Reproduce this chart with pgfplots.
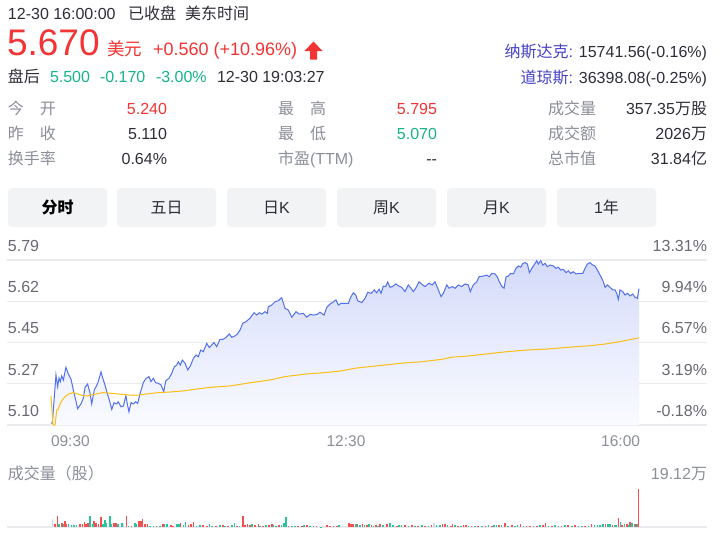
\documentclass[border=0pt]{standalone}
\usepackage{fontspec}
\setmainfont{Liberation Sans}
\newfontfamily\cjk{Noto Sans CJK SC}
\usepackage{pgfplots}
\usepackage{pgfplotstable}
\pgfplotsset{compat=1.18}
\newcommand\fs[1]{\fontsize{#1}{#1}\selectfont}
\definecolor{dark}{RGB}{45,45,55}
\definecolor{myred}{RGB}{242,52,52}
\definecolor{mygreen}{RGB}{22,180,140}
\definecolor{nasblue}{RGB}{70,66,196}
\definecolor{lblgray}{RGB}{140,143,152}
\definecolor{tickgray}{RGB}{105,105,115}
\definecolor{gridc}{RGB}{234,235,239}
\definecolor{btn}{RGB}{242,243,245}
\definecolor{pline}{RGB}{82,112,236}
\definecolor{avgline}{RGB}{250,190,20}
\definecolor{fillTop}{RGB}{212,219,250}
\definecolor{fillBot}{RGB}{250,251,255}
\definecolor{vred}{RGB}{245,80,80}
\definecolor{vgreen}{RGB}{40,196,158}
\definecolor{vgray}{RGB}{215,215,222}

\pgfplotstableread{
t p
0 5.108
0.9 5.109
3.3 5.310
4.4 5.261
5.3 5.297
6.2 5.282
7.1 5.306
8.2 5.289
9.9 5.342
11.5 5.314
13.3 5.292
14.8 5.247
16.4 5.205
17.7 5.169
19.9 5.189
21.4 5.212
22.6 5.258
24.3 5.272
25.9 5.233
27.0 5.189
28.7 5.247
31.0 5.275
33.2 5.323
34.0 5.303
35.8 5.268
37.3 5.233
38.7 5.205
40.3 5.166
41.8 5.194
43.6 5.189
44.6 5.198
46.4 5.177
48.0 5.180
49.7 5.223
50.6 5.189
51.7 5.156
53.1 5.194
54.6 5.189
56.2 5.198
57.5 5.191
59.0 5.230
61.2 5.277
62.8 5.294
65.0 5.303
66.3 5.282
67.9 5.296
69.4 5.277
71.2 5.275
73.0 5.268
74.8 5.240
76.1 5.285
78.3 5.296
80.1 5.317
81.8 5.344
83.4 5.351
84.4 5.365
85.8 5.351
87.1 5.372
88.9 5.359
90.7 5.331
92.4 5.347
94.4 5.379
96.2 5.393
97.7 5.386
99.3 5.414
101.0 5.407
103.3 5.442
105.0 5.424
106.6 5.435
108.1 5.445
109.9 5.428
112.1 5.459
114.3 5.459
116.1 5.467
118.3 5.481
119.9 5.467
122.0 5.473
123.6 5.481
125.4 5.498
127.2 5.526
129.3 5.532
132.0 5.547
134.7 5.570
136.4 5.560
138.2 5.570
139.8 5.564
141.9 5.574
143.5 5.567
144.1 5.595
146.4 5.602
148.6 5.616
150.8 5.620
153.0 5.633
155.2 5.588
157.4 5.581
159.7 5.551
162.5 5.574
164.7 5.564
167.4 5.567
169.6 5.551
171.8 5.563
174.0 5.560
176.6 5.563
178.4 5.572
181.1 5.560
182.9 5.592
185.1 5.606
189.0 5.623
190.6 5.602
192.4 5.609
197.2 5.609
199.0 5.637
200.5 5.653
202.1 5.644
203.4 5.620
206.1 5.612
208.3 5.630
210.1 5.655
212.3 5.651
214.4 5.665
216.0 5.653
217.6 5.668
218.9 5.651
220.4 5.681
222.0 5.679
223.3 5.698
224.9 5.676
226.4 5.679
228.6 5.690
230.8 5.681
232.6 5.676
234.8 5.658
237.0 5.686
238.8 5.672
240.3 5.658
241.9 5.672
244.1 5.699
245.9 5.689
248.1 5.679
250.7 5.693
252.9 5.686
254.7 5.699
256.5 5.672
258.7 5.637
260.2 5.651
262.5 5.686
264.0 5.672
266.2 5.679
268.0 5.672
270.2 5.686
272.4 5.679
274.6 5.690
276.8 5.686
278.1 5.658
280.1 5.686
282.4 5.699
283.9 5.720
286.7 5.723
289.0 5.727
290.7 5.720
292.3 5.734
294.5 5.732
296.0 5.720
297.4 5.699
298.9 5.681
300.5 5.672
301.8 5.720
303.3 5.723
304.9 5.734
306.7 5.732
308.4 5.755
310.0 5.765
311.6 5.760
312.9 5.776
314.4 5.779
316.0 5.773
317.3 5.737
318.9 5.755
320.4 5.769
322.2 5.787
323.2 5.773
324.8 5.787
326.2 5.769
327.7 5.776
329.2 5.762
331.0 5.769
333.2 5.765
335.0 5.755
336.5 5.760
338.1 5.748
339.8 5.751
341.6 5.737
343.1 5.745
344.7 5.734
346.4 5.741
348.2 5.732
350.4 5.734
352.7 5.734
354.2 5.755
355.7 5.773
357.5 5.779
359.3 5.769
360.8 5.765
362.4 5.748
364.2 5.727
365.9 5.706
367.5 5.676
369.0 5.686
370.8 5.676
372.6 5.665
374.1 5.665
375.2 5.651
376.3 5.626
377.4 5.665
379.2 5.658
380.7 5.644
382.3 5.651
384.1 5.640
385.8 5.648
387.4 5.634
388.9 5.630
390.0 5.670
}\price

\pgfplotstableread{
t p
0 5.222
1.3 5.101
2.7 5.101
3.8 5.163
4.8 5.166
6.0 5.189
7.5 5.205
9.3 5.219
11.5 5.230
14.8 5.236
18.1 5.230
21.4 5.223
24.7 5.223
29.2 5.230
34.7 5.236
40.3 5.233
46.9 5.229
53.5 5.225
59.0 5.226
62.4 5.230
71.2 5.236
80.1 5.239
88.9 5.244
95.5 5.250
105.5 5.258
118.7 5.264
132.0 5.277
145.3 5.289
155.2 5.303
169.6 5.314
180.6 5.319
191.7 5.326
201.6 5.338
214.9 5.347
232.6 5.359
245.9 5.365
259.1 5.375
265.8 5.384
276.8 5.389
287.9 5.397
302.3 5.407
315.5 5.414
328.8 5.418
342.1 5.425
357.5 5.432
366.3 5.438
377.4 5.449
390.0 5.465
}\avg

\begin{document}
\begin{tikzpicture}[x=1pt,y=1pt,every node/.style={inner sep=0pt,outer sep=0pt}]
\useasboundingbox (0,0) rectangle (725,-542);
\fill[white] (0,0) rectangle (725,-542);
\coordinate (pA) at (7,-425);
\coordinate (vA) at (7,-527);

% header line 1
\node[anchor=base west,font=\fs{16},text=dark] at (8,-19.5) {12-30 16:00:00};
\node[anchor=base west,font=\cjk\fs{16},text=dark] at (128,-19.5) {已收盘};
\node[anchor=base west,font=\cjk\fs{16},text=dark] at (185,-19.5) {美东时间};
% header line 2
\node[anchor=base west,font=\fs{37},text=myred] at (7,-55) {5.670};
\node[anchor=base west,font=\cjk\fs{17.5},text=myred] at (107,-55) {美元};
\node[anchor=base west,font=\fs{18},text=myred] at (153,-55) {+0.560 (+10.96\%)};
\fill[myred] (313.5,-41.5) -- (322.5,-51) -- (317,-51) -- (317,-59.5) -- (310,-59.5) -- (310,-51) -- (304.5,-51) -- cycle;
% header line 3
\node[anchor=base west,font=\cjk\fs{16},text=dark] at (8,-82) {盘后};
\node[anchor=base west,font=\fs{16},text=mygreen] at (50,-82) {5.500};
\node[anchor=base west,font=\fs{16},text=mygreen] at (100,-82) {-0.170};
\node[anchor=base west,font=\fs{16},text=mygreen] at (156,-82) {-3.00\%};
\node[anchor=base west,font=\fs{16},text=dark] at (217,-82) {12-30 19:03:27};
% indices
\node[anchor=base east,font=\fs{16},text=dark] at (707,-57) {{\cjk\color{nasblue}纳斯达克}{\color{nasblue}:} 15741.56(-0.16\%)};
\node[anchor=base east,font=\fs{16},text=dark] at (707,-83) {{\cjk\color{nasblue}道琼斯}{\color{nasblue}:} 36398.08(-0.25\%)};

% stats
\foreach \lab/\yy in {今　开/114, 昨　收/139, 换手率/164}
  \node[anchor=base west,font=\cjk\fs{16},text=lblgray] at (8,-\yy) {\lab};
\node[anchor=base east,font=\fs{16},text=myred] at (167,-114) {5.240};
\node[anchor=base east,font=\fs{16},text=dark] at (167,-139) {5.110};
\node[anchor=base east,font=\fs{16},text=dark] at (167,-164) {0.64\%};
\node[anchor=base west,font=\cjk\fs{16},text=lblgray] at (278,-114) {最　高};
\node[anchor=base west,font=\cjk\fs{16},text=lblgray] at (278,-139) {最　低};
\node[anchor=base west,font=\fs{16},text=lblgray] at (278,-164) {{\cjk 市盈}(TTM)};
\node[anchor=base east,font=\fs{16},text=myred] at (437,-114) {5.795};
\node[anchor=base east,font=\fs{16},text=mygreen] at (437,-139) {5.070};
\node[anchor=base east,font=\fs{16},text=dark] at (437,-164) {-{}-};
\node[anchor=base west,font=\cjk\fs{16},text=lblgray] at (548,-114) {成交量};
\node[anchor=base west,font=\cjk\fs{16},text=lblgray] at (548,-139) {成交额};
\node[anchor=base west,font=\cjk\fs{16},text=lblgray] at (548,-164) {总市值};
\node[anchor=base east,font=\fs{16},text=dark] at (707,-114) {357.35{\cjk 万股}};
\node[anchor=base east,font=\fs{16},text=dark] at (707,-139) {2026{\cjk 万}};
\node[anchor=base east,font=\fs{16},text=dark] at (707,-164) {31.84{\cjk 亿}};

% buttons
\foreach \xa in {8,117,227,337,447,557}
  \fill[btn,rounded corners=4pt] (\xa,-188) rectangle (\xa+99,-227);
\node[anchor=base,font=\cjk\bfseries\fs{16},text=black] at (57.5,-213) {分时};
\node[anchor=base,font=\cjk\fs{16},text=dark] at (166.5,-213) {五日};
\node[anchor=base,font=\fs{16},text=dark] at (276.5,-213) {{\cjk 日}K};
\node[anchor=base,font=\fs{16},text=dark] at (386.5,-213) {{\cjk 周}K};
\node[anchor=base,font=\fs{16},text=dark] at (496.5,-213) {{\cjk 月}K};
\node[anchor=base,font=\fs{16},text=dark] at (606.5,-213) {1{\cjk 年}};

% price axis
\begin{axis}[at={(pA)},anchor=south west,scale only axis,
  width=700pt,height=165pt,
  xmin=-29.18,xmax=435.1,ymin=5.1008,ymax=5.79,
  axis line style={draw=none},
  xtick=\empty, ytick={5.1008,5.2731,5.4454,5.6177,5.79},
  yticklabels={}, major tick length=0pt,
  ymajorgrids, major grid style={gridc,line width=1.2pt},
  clip=false]
\addplot[draw=none,top color=fillTop,bottom color=fillBot] table[x=t,y=p]{\price} -- (390,5.1008) -- (0,5.1008) -- cycle;
\addplot[pline,line width=1pt,mark=none] table[x=t,y=p]{\price};
\addplot[avgline,line width=1pt,mark=none] table[x=t,y=p]{\avg};
\end{axis}

% price labels
\foreach \v/\g in {5.79/260,5.62/301,5.45/342,5.27/384,5.10/425}
  \node[anchor=base west,font=\fs{16},text=tickgray] at (8,-\g+9) {\v};
\foreach \v/\g in {13.31/260,9.94/301,6.57/342,3.19/384,-0.18/425}
  \node[anchor=base east,font=\fs{16},text=tickgray] at (707,-\g+9) {\v\%};
% time labels
\node[anchor=base west,font=\fs{15.5},text=lblgray] at (51,-446) {09:30};
\node[anchor=base,font=\fs{15.5},text=lblgray] at (346,-446) {12:30};
\node[anchor=base east,font=\fs{15.5},text=lblgray] at (640,-446) {16:00};
% volume labels
\node[anchor=base west,font=\cjk\fs{16},text=lblgray] at (8,-479) {成交量（股）};
\node[anchor=base east,font=\fs{16},text=lblgray] at (707,-479) {19.12{\cjk 万}};

% volume axis
\begin{axis}[at={(vA)},anchor=south west,scale only axis,
  width=700pt,height=38pt,
  xmin=-29.18,xmax=435.1,ymin=0,ymax=19.12,
  axis line style={draw=none},
  xtick=\empty, ytick={0}, yticklabels={}, major tick length=0pt,
  ymajorgrids, major grid style={gridc,line width=1.2pt},
  clip=false]
\addplot[ycomb,vgray,line width=1.6pt,mark=none] coordinates {
(1.1,3.9) (48.0,1.7) (180.6,0.5) (254.2,2.0)};
\addplot[ycomb,vred,line width=1.6pt,mark=none] coordinates {
(2.7,1.7) (4.2,5.6) (7.1,2.2) (9.3,3.0) (10.4,1.4) (19.2,1.4) (21.0,1.7) (22.1,2.7) (23.2,1.7) (24.7,2.2)
(28.7,3.0) (29.8,2.2) (31.4,1.7) (33.0,5.1) (41.8,2.2) (43.1,2.2) (50.2,5.6) (53.5,0.5) (58.4,3.0) (59.5,3.0)
(60.8,4.2) (62.4,1.4) (63.9,1.4) (70.1,0.7) (74.1,1.4) (79.4,1.0) (81.1,0.7) (86.0,2.2) (91.1,1.0) (92.7,1.4)
(94.4,2.7) (101.0,1.0) (103.3,0.4) (109.4,0.7) (113.9,0.8) (117.2,0.5) (123.2,0.7) (127.2,5.4) (128.7,1.0) (130.2,1.4)
(132.0,1.0) (135.3,0.8) (137.5,1.4) (140.8,0.5) (144.4,1.2) (146.4,1.4) (151.4,0.8) (157.4,0.7) (164.0,0.7) (166.3,0.5)
(169.6,1.2) (176.2,0.4) (182.9,0.8) (185.1,0.7) (187.3,0.7) (189.5,0.7) (197.7,2.0) (199.0,1.4) (200.5,1.4) (203.4,1.4)
(206.5,1.4) (209.4,1.0) (212.7,1.0) (215.4,1.0) (218.2,1.4) (222.7,1.4) (229.3,0.7) (234.8,1.0) (239.3,1.0) (243.6,0.7)
(248.1,0.7) (252.5,1.0) (259.6,1.4) (261.3,1.4) (265.3,0.7) (266.2,1.4) (269.8,0.7) (273.5,1.0) (275.1,1.0) (279.0,0.7)
(283.4,0.7) (288.3,0.7) (292.3,0.7) (297.2,1.0) (301.1,2.0) (305.6,1.0) (311.3,1.4) (315.5,0.7) (317.7,0.7) (322.2,0.7)
(326.5,1.0) (328.1,2.0) (332.1,0.7) (338.7,0.7) (343.1,1.0) (347.6,1.0) (354.2,0.7) (358.6,1.4) (367.9,1.7) (372.3,1.0)
(376.3,4.4) (378.9,1.0) (381.9,1.7) (384.1,2.7) (388.0,1.7) (389.7,19.12)};
\addplot[ycomb,vgreen,line width=1.6pt,mark=none] coordinates {
(5.5,1.7) (8.2,1.7) (11.5,1.7) (13.7,1.0) (15.3,1.0) (17.0,1.0) (25.9,5.6) (27.7,1.4) (34.3,1.4) (35.8,3.4)
(36.9,2.2) (39.1,5.6) (40.2,1.7) (44.6,1.4) (46.9,2.2) (51.5,0.5) (55.7,2.2) (56.8,1.4) (65.7,0.7) (67.9,0.7)
(72.3,0.7) (75.4,1.7) (76.8,1.4) (83.4,1.7) (84.7,1.4) (87.8,1.0) (89.1,2.7) (96.6,0.7) (98.8,0.8) (105.0,1.4)
(106.6,0.7) (112.1,0.8) (115.6,0.4) (119.9,0.8) (121.6,1.9) (124.9,0.7) (133.5,1.4) (138.6,0.7) (142.6,0.8) (147.5,0.8)
(149.2,0.5) (153.0,1.2) (154.6,2.2) (155.9,5.1) (159.7,0.5) (161.8,0.5) (167.8,0.8) (171.8,0.5) (174.0,0.4) (178.9,0.2)
(191.2,0.8) (202.1,1.7) (205.0,1.0) (207.8,1.0) (210.9,1.4) (213.8,0.7) (216.7,0.7) (220.4,1.0) (224.9,2.0) (227.0,1.0)
(230.8,1.2) (232.6,1.0) (237.0,0.7) (241.4,0.7) (245.9,1.0) (250.3,0.7) (255.8,1.2) (258.0,1.0) (263.1,1.0) (268.0,1.0)
(272.0,0.7) (276.8,0.7) (281.2,0.7) (285.7,0.7) (290.1,1.0) (294.0,1.2) (295.6,1.0) (298.9,1.0) (303.3,0.7) (307.8,0.7)
(309.5,1.0) (313.3,0.7) (319.9,0.7) (324.4,1.0) (329.9,0.7) (334.3,1.0) (336.5,0.7) (340.9,1.0) (345.4,0.7) (349.8,0.7)
(352.0,0.7) (356.4,0.7) (360.4,1.0) (362.6,1.0) (364.2,1.0) (366.3,1.7) (369.3,1.4) (370.8,1.7) (374.1,1.0) (375.2,1.0)
(377.6,2.7) (380.3,1.4) (383.4,1.0) (385.2,2.0) (386.9,1.7) (389.1,1.7)};
\end{axis}
\end{tikzpicture}
\end{document}
